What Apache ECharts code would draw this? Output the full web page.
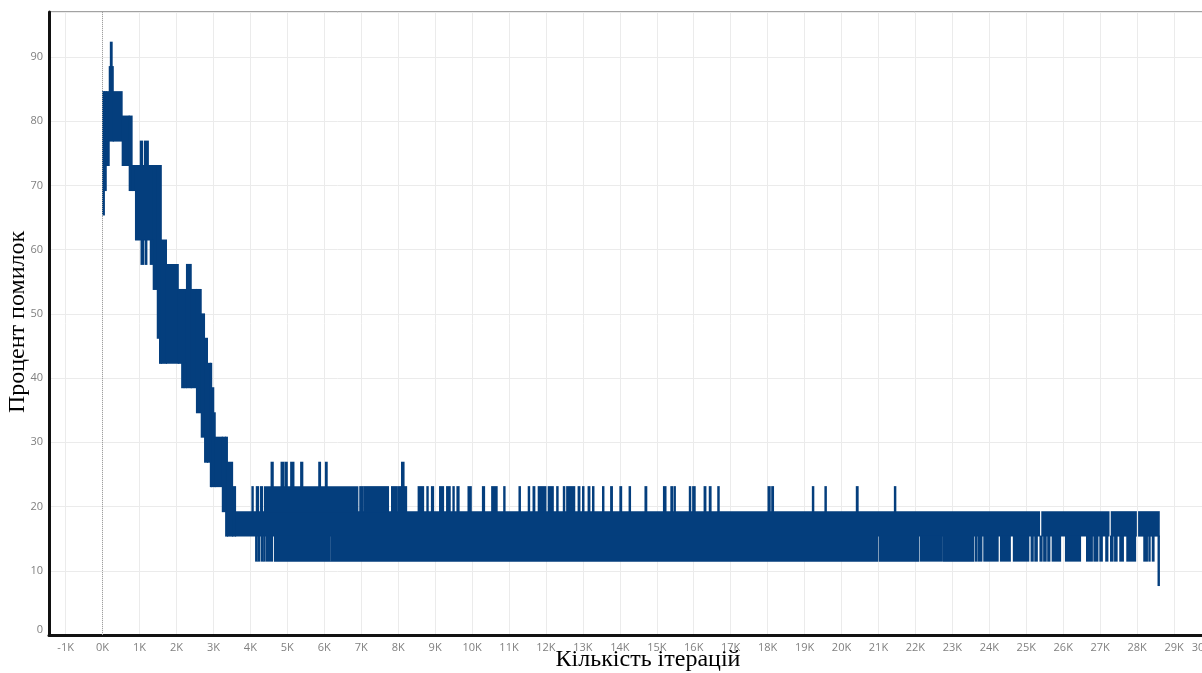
<!DOCTYPE html>
<html><head><meta charset="utf-8">
<script src="https://cdn.jsdelivr.net/npm/echarts@6/dist/echarts.min.js"></script>
<style>html,body{margin:0;padding:0;background:#fff}#chart{width:1202px;height:673px}</style>
</head><body><div id="chart"></div>
<script>
// Each band: [iteration start, iteration end, low %, high %]
// Early descent (0K – 3.6K): envelope of the oscillating error line
const descentBands = [
  [0, 50, 65.4, 84.6], [50, 100, 69.2, 84.6], [100, 180, 73.1, 84.6],
  [180, 290, 76.9, 88.5], [290, 530, 76.9, 84.6], [530, 720, 73.1, 80.8],
  [720, 800, 69.2, 80.8], [800, 890, 69.2, 73.1], [890, 1370, 61.5, 73.1],
  [1370, 1480, 53.8, 73.1], [1480, 1540, 46.2, 73.1], [1540, 1590, 42.3, 73.1],
  [1590, 1730, 42.3, 61.5], [1730, 2050, 42.3, 57.7], [2050, 2270, 42.3, 53.8],
  [2270, 2400, 38.5, 57.7], [2400, 2540, 38.5, 53.8], [2540, 2670, 34.6, 53.8],
  [2670, 2760, 30.8, 50.0], [2760, 2840, 26.9, 46.2], [2840, 2920, 26.9, 42.3],
  [2920, 2950, 23.1, 42.3], [2950, 3050, 23.1, 34.6], [3050, 3240, 23.1, 30.8],
  [3240, 3330, 19.2, 30.8], [3330, 3380, 15.4, 30.8], [3380, 3520, 15.4, 26.9],
  [3520, 3600, 15.4, 23.1]
];
const descentSpikes = [
  [210, 260, 88.5, 92.3], [1020, 1080, 73.1, 76.9], [1130, 1240, 73.1, 76.9],
  [1040, 1110, 57.7, 61.5], [1150, 1200, 57.7, 61.5], [1290, 1360, 57.7, 61.5],
  [2140, 2200, 38.5, 42.3], [2210, 2260, 38.5, 42.3], [2950, 3010, 34.6, 38.5]
];
// Plateau: core band 15.4 – 19.2
const coreBands = [
  [3600, 25360, 15.4, 19.2], [25420, 27240, 15.4, 19.2],
  [27300, 27980, 15.4, 19.2], [28040, 28600, 15.4, 19.2]
];
// Upper layer 19.2 – 23.1
const upperBands = [
  [4050, 4070], [4160, 4220], [4270, 4330], [4380, 6910], [6960, 7050], [7070, 7740],
  [7820, 7980], [8010, 8230], [8540, 8690], [8780, 8810], [8900, 8960], [9120, 9230],
  [9310, 9410], [9490, 9510], [9590, 9650], [9890, 9980], [10280, 10340], [10530, 10680],
  [10860, 10890], [11270, 11310], [11520, 11560], [11650, 11700], [11790, 12000],
  [12060, 12200], [12290, 12330], [12470, 12510], [12560, 12780], [12870, 12920],
  [12990, 13030], [13140, 13190], [13260, 13300], [13530, 13570], [13750, 13800],
  [14000, 14050], [14250, 14290], [14680, 14730], [15180, 15250], [15380, 15430],
  [15470, 15500], [15880, 15920], [15970, 16040], [16280, 16330], [16420, 16470],
  [16650, 16690], [18010, 18070], [18110, 18160], [19210, 19250], [19550, 19590],
  [20400, 20450], [21430, 21470]
];
const upperLow = 19.2, upperHigh = 23.1;
// Peaks 23.1 – 26.9
const peakBands = [
  [4560, 4620], [4830, 4910], [4940, 5000], [5090, 5180], [5360, 5420],
  [5850, 5900], [6030, 6080], [8090, 8160]
];
const peakLow = 23.1, peakHigh = 26.9;
// Lower layer 11.5 – 15.4
const lowerBands = [
  [4150, 4170], [4200, 4250], [4290, 4340], [4360, 4400], [4430, 4600], [4650, 6160],
  [6180, 20980], [21020, 22090], [22130, 22730], [22760, 23580], [23620, 23670],
  [23700, 23800], [23850, 24240], [24300, 24570], [24650, 25070], [25130, 25190],
  [25230, 25300], [25370, 25430], [25470, 25540], [25580, 25640], [25700, 25930],
  [26060, 26470], [26630, 26790], [26830, 26940], [26990, 27060], [27150, 27210],
  [27280, 27350], [27390, 27460], [27530, 27630], [27720, 27960], [28180, 28280],
  [28320, 28350], [28410, 28460]
];
const lowerLow = 11.5, lowerHigh = 15.4;
const endSpike = [[28570, 28600, 7.7, 15.4]];

const xTitle = 'Кількість ітерацій';
const yTitle = 'Процент помилок';

const rects = [].concat(
  descentBands, descentSpikes, coreBands,
  upperBands.map(d => [d[0], d[1], upperLow, upperHigh]),
  peakBands.map(d => [d[0], d[1], peakLow, peakHigh]),
  lowerBands.map(d => [d[0], d[1], lowerLow, lowerHigh]),
  endSpike
);

const COLOR = '#043e7d';
const chart = echarts.init(document.getElementById('chart'), null, {renderer: 'canvas'});
chart.setOption({
  animation: false,
  backgroundColor: '#fff',
  grid: {left: 49, width: 1162, top: 12, bottom: 38, show: true, borderColor: '#444', borderWidth: 1,
    containLabel: false, outerBoundsMode: 'none'},
  xAxis: {
    type: 'value', min: -1450, max: 30000, splitNumber: 31,
    axisLine: {show: true, onZero: false, lineStyle: {color: '#111', width: 3}},
    axisTick: {show: false},
    axisLabel: {interval: 0, showMinLabel: false, alignMaxLabel: 'right',
      formatter: v => (v / 1000) + 'K', color: '#808080', fontSize: 11,
      fontFamily: 'Open Sans', margin: 7},
    splitLine: {show: true, lineStyle: {color: '#ebebeb', width: 1}}
  },
  yAxis: {
    type: 'value', min: 0, max: 97, interval: 10,
    axisLine: {show: true, onZero: false, lineStyle: {color: '#111', width: 3}},
    axisTick: {show: false},
    axisLabel: {showMaxLabel: false, verticalAlignMinLabel: 'bottom', color: '#808080',
      fontSize: 11, fontFamily: 'Open Sans', margin: 6},
    splitLine: {show: true, lineStyle: {color: '#ebebeb', width: 1}}
  },
  graphic: [
    {type: 'text', x: 18, y: 322, rotation: Math.PI / 2, z: 10,
      style: {text: yTitle, font: '24px "Liberation Serif"', fill: '#000', align: 'center', verticalAlign: 'middle'}},
    {type: 'text', x: 648, y: 660, z: 10,
      style: {text: xTitle, font: '24px "Liberation Serif"', fill: '#000', align: 'center', verticalAlign: 'middle'}}
  ],
  series: [
    {type: 'line', data: [], z: 1,
      markLine: {silent: true, symbol: ['none', 'none'], label: {show: false},
        lineStyle: {type: 'dotted', color: '#a0a0a0', width: 1}, data: [{xAxis: 0}]}},
    {type: 'custom', z: 3, data: rects,
      encode: {x: [0, 1], y: [2, 3]},
      renderItem: function (params, api) {
        const a = api.coord([api.value(0), api.value(3)]);
        const b = api.coord([api.value(1), api.value(2)]);
        let x = a[0] - 0.5, w = b[0] - a[0] + 1;
        if (w < 2.4) { x = (a[0] + b[0]) / 2 - 1.2; w = 2.4; }
        return {type: 'rect', shape: {x: x, y: a[1] - 0.5, width: w, height: b[1] - a[1] + 1},
          style: {fill: COLOR}};
      }}
  ]
});
</script></body></html>
